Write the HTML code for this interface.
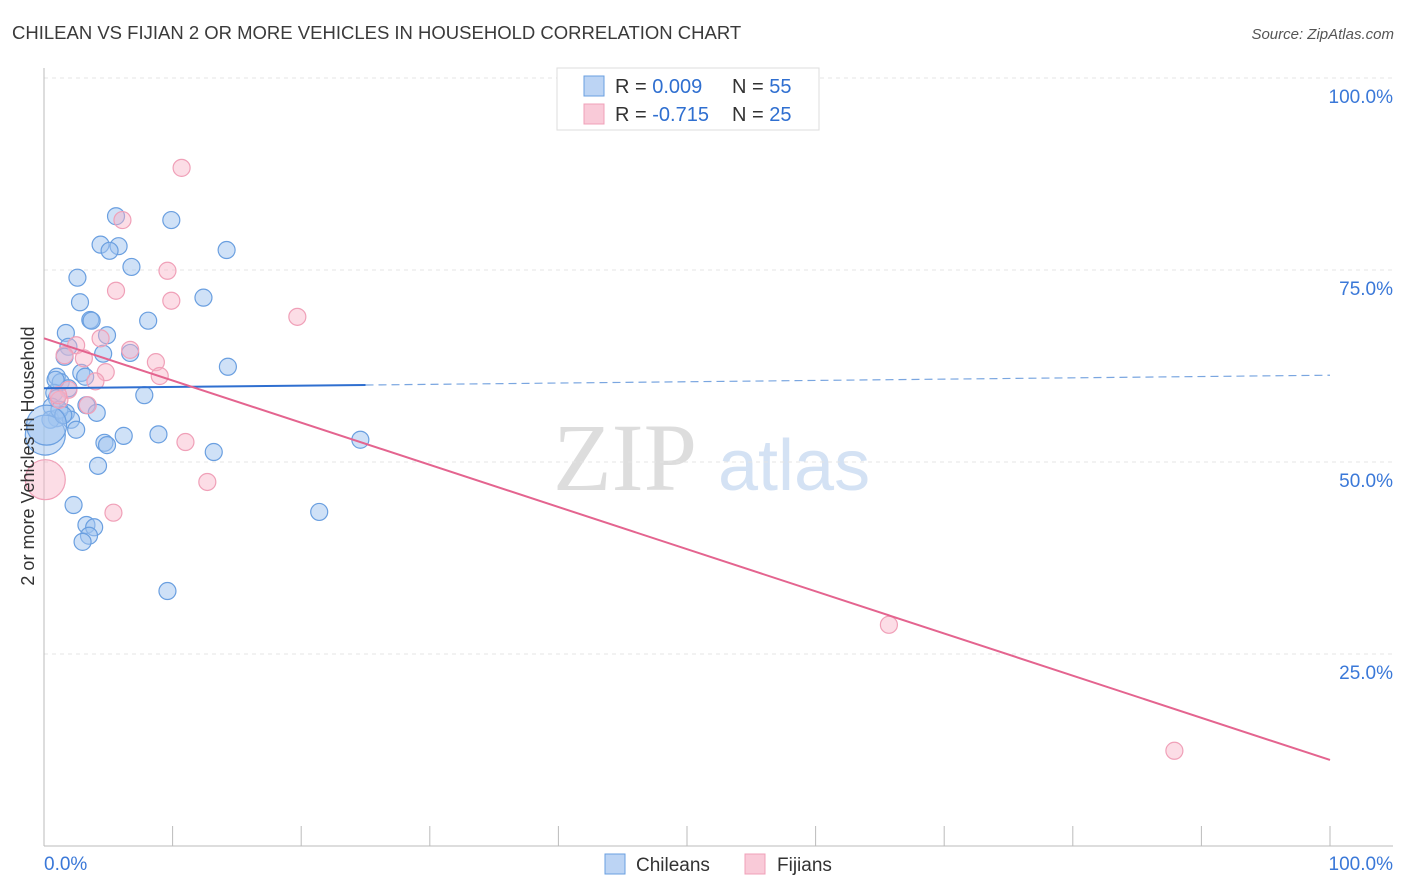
<!DOCTYPE html>
<html><head><meta charset="utf-8"><style>
body{margin:0;background:#fff;font-family:"Liberation Sans",sans-serif;}
svg{display:block}
</style></head><body>
<svg id="chart" width="1406" height="892" xmlns="http://www.w3.org/2000/svg">
<text x="12" y="39" font-size="18.5" fill="#3a3a3a">CHILEAN VS FIJIAN 2 OR MORE VEHICLES IN HOUSEHOLD CORRELATION CHART</text>
<text x="1394" y="39" font-size="15" fill="#555" font-style="italic" text-anchor="end">Source: ZipAtlas.com</text>
<g>
<text x="553" y="490" font-size="96" fill="#ddd" font-family="Liberation Serif,serif">ZIP</text>
<text x="718" y="490" font-size="72" fill="#d4e2f4">atlas</text>
</g>
<g id="grid"></g>
<g id="axes"></g>
<g id="marks"></g>
<g>
<rect x="557" y="68" width="262" height="62" fill="#fff" stroke="#ddd"/>
<rect x="584" y="76" width="20" height="20" fill="#bcd4f4" stroke="#6a9fe0"/>
<rect x="584" y="104" width="20" height="20" fill="#f9cad8" stroke="#f0a0b8"/>
<text x="615" y="93" font-size="20" fill="#333">R = <tspan fill="#2f6fd0">0.009</tspan></text>
<text x="732" y="93" font-size="20" fill="#333">N = <tspan fill="#2f6fd0">55</tspan></text>
<text x="615" y="121" font-size="20" fill="#333">R = <tspan fill="#2f6fd0">-0.715</tspan></text>
<text x="732" y="121" font-size="20" fill="#333">N = <tspan fill="#2f6fd0">25</tspan></text>
</g>
<g>
<rect x="605" y="854" width="20" height="20" fill="#bcd4f4" stroke="#6a9fe0"/>
<text x="636" y="871" font-size="19" fill="#333">Chileans</text>
<rect x="745" y="854" width="20" height="20" fill="#f9cad8" stroke="#f0a0b8"/>
<text x="777" y="871" font-size="19" fill="#333">Fijians</text>
</g>
<text transform="translate(34,456) rotate(-90)" font-size="18" fill="#333" text-anchor="middle">2 or more Vehicles in Household</text>
</svg>
<script>
const blueX=[5.6,9.9,4.4,5.8,5.1,14.2,6.8,2.6,12.4,2.8,3.6,3.7,8.1,1.7,4.9,1.9,1.6,4.6,6.7,14.3,1.0,2.9,3.2,1.3,1.9,7.8,0.8,1.0,0.6,3.3,1.7,4.1,1.0,0.5,2.1,2.5,0.1,6.2,8.9,4.7,4.9,24.6,13.2,4.2,2.3,21.4,3.3,3.9,3.5,3.0,9.6,0.9,1.2,1.5,0.2];
const blueY=[82.0,81.5,78.3,78.1,77.5,77.6,75.4,74.0,71.4,70.8,68.5,68.4,68.4,66.8,66.5,65.0,63.7,64.1,64.2,62.4,61.1,61.6,61.1,60.4,59.6,58.7,59.0,58.3,57.2,57.4,56.4,56.4,55.7,55.5,55.5,54.2,53.5,53.4,53.6,52.5,52.2,52.9,51.3,49.5,44.4,43.5,41.8,41.5,40.4,39.6,33.2,60.7,56.8,56.1,54.8];
const pinkX=[10.7,6.1,9.6,5.6,9.9,19.7,2.5,1.6,3.1,4.4,6.7,8.7,9.0,4.8,4.0,1.9,3.4,1.2,11.0,12.7,5.4,0.1,65.7,87.9,1.1];
const pinkY=[88.3,81.5,74.9,72.3,71.0,68.9,65.2,63.9,63.5,66.1,64.6,63.0,61.2,61.7,60.5,59.4,57.4,58.1,52.6,47.4,43.4,47.7,28.8,12.4,58.7];
const blueTrend=[59.6,61.3];
const pinkTrend=[66.1,11.2];
const yTicks=[25,50,75,100];
const xTicks=[0,10,20,30,40,50,60,70,80,90,100];
const NS='http://www.w3.org/2000/svg';
const sx=v=>44+v*12.86, sy=v=>846-v*7.68;
function mk(tag,attrs,parent){const e=document.createElementNS(NS,tag);for(const k in attrs)e.setAttribute(k,attrs[k]);document.getElementById(parent).appendChild(e);return e;}
yTicks.forEach(t=>{
 const l=mk('line',{x1:44,x2:1393,y1:sy(t),y2:sy(t),stroke:'#e4e4e4','stroke-dasharray':'4,4'},'grid');
 
 
 const tx=mk('text',{x:1393,y:sy(t)+25,'font-size':19,fill:'#3a78d8','text-anchor':'end'},'grid');
 tx.textContent=t.toFixed(1)+'%';
 
 
});
const ax=mk('line',{x1:44,x2:44,y1:68,y2:846,stroke:'#bbb'},'axes');


const bx=mk('line',{x1:44,x2:1393,y1:846,y2:846,stroke:'#bbb'},'axes');


xTicks.forEach(t=>{
 const l=mk('line',{x1:sx(t),x2:sx(t),y1:826,y2:846,stroke:'#bbb'},'axes');
 
 
});
[[0,'start','0.0%'],[100,'end','100.0%']].forEach(([t,a,s])=>{
 const tx=mk('text',{x:t===0?44:1393,y:870,'font-size':19,fill:'#3a78d8','text-anchor':a},'axes');
 tx.textContent=s;
 
 
});
function dot(x,y,fill,stroke,name){
 const r=(x<0.3)?20:8.5;
 const c=mk('circle',{cx:sx(x),cy:sy(y),r:r,fill:fill,stroke:stroke,'stroke-width':1.2},'marks');
 
 
}
blueX.forEach((x,i)=>dot(x,blueY[i],'rgba(160,196,240,0.5)','#6a9fe0','chilean-point'));
pinkX.forEach((x,i)=>dot(x,pinkY[i],'rgba(248,180,200,0.45)','#f0a0b8','fijian-point'));
const by=v=>blueTrend[0]+(blueTrend[1]-blueTrend[0])*v/100;
const b1=mk('line',{x1:sx(0),y1:sy(by(0)),x2:sx(25),y2:sy(by(25)),stroke:'#2f6fd0','stroke-width':2},'marks');


const b2=mk('line',{x1:sx(25),y1:sy(by(25)),x2:sx(100),y2:sy(by(100)),stroke:'#7aa6e0','stroke-width':1.2,'stroke-dasharray':'8,5'},'marks');


const p1=mk('line',{x1:sx(0),y1:sy(pinkTrend[0]),x2:sx(100),y2:sy(pinkTrend[1]),stroke:'#e4648f','stroke-width':2},'marks');


</script>
</body></html>
